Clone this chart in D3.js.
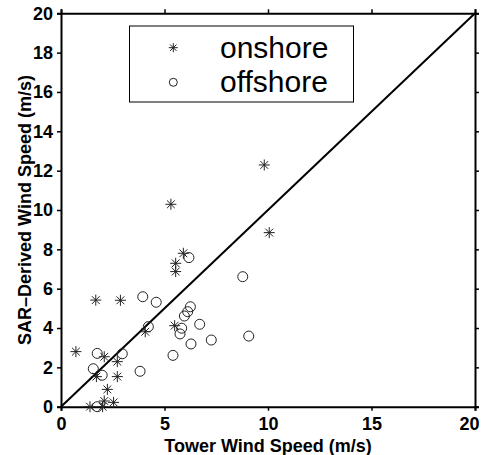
<!DOCTYPE html>
<html><head><meta charset="utf-8">
<script src="https://cdn.jsdelivr.net/npm/d3@7"></script>
<style>body{margin:0;background:#fff}svg{display:block}</style>
</head><body>
<svg id="c" width="481" height="455"></svg>
<script>
const onshoreX = [0.72,1.68,2.87,5.91,5.54,5.54,5.49,4.07,2.09,2.72,2.72,1.71,2.24,2.09,2.54,1.40,2.01,5.31,9.82,10.06];
const onshoreY = [2.80,5.42,5.41,7.80,7.29,6.87,4.12,3.81,2.54,2.29,1.53,1.53,0.88,0.29,0.22,0.00,0.00,10.29,12.29,8.85];
const offshoreX = [6.18,3.95,4.60,6.25,6.12,5.96,6.70,5.83,5.75,4.22,7.26,6.28,5.41,3.82,1.75,2.96,1.56,1.99,1.75,8.78,9.07];
const offshoreY = [7.58,5.59,5.31,5.08,4.83,4.61,4.19,3.99,3.70,4.07,3.39,3.19,2.61,1.80,2.71,2.69,1.93,1.60,0.00,6.61,3.59];
const xTicks = [0,5,10,15,20];
const yTicks = [0,2,4,6,8,10,12,14,16,18,20];
const legendLabels = ["onshore","offshore"];
const xLabel = "Tower Wind Speed (m/s)";
const yLabel = "SAR\u2013Derived Wind Speed (m/s)";

const svg = d3.select("#c");
const L=61, T=13.3, W=414, H=393.4;
const x = d3.scaleLinear().domain([0,20]).range([L,L+W]);
const y = d3.scaleLinear().domain([0,20]).range([T+H,T]);
const font = "'Liberation Sans', Arial, Helvetica, sans-serif";

function styleAxis(g){
  g.selectAll("path.domain").attr("stroke","#000").attr("stroke-width",2);
  g.selectAll(".tick line").attr("stroke","#000").attr("stroke-width",1.5);
  g.selectAll("text").attr("font-family",font).attr("font-weight","bold").attr("font-size",18).attr("fill","#000");
}
const gx = svg.append("g").attr("transform",`translate(0,${T+H})`)
  .call(d3.axisBottom(x).tickValues(xTicks).tickSize(4).tickPadding(7).tickFormat(d3.format("d"))).call(styleAxis);
// keep the last label inside the window (reference shows it at the very edge)
gx.selectAll(".tick text").filter(d=>d===20).attr("text-anchor","end").attr("dx","4");
svg.append("g").attr("transform",`translate(0,${T})`)
  .call(d3.axisTop(x).tickValues(xTicks).tickSize(4).tickFormat("")).call(styleAxis);
svg.append("g").attr("transform",`translate(${L},0)`)
  .call(d3.axisLeft(y).tickValues(yTicks).tickSize(4).tickPadding(4).tickFormat(d3.format("d"))).call(styleAxis);
svg.append("g").attr("transform",`translate(${L+W},0)`)
  .call(d3.axisRight(y).tickValues(yTicks).tickSize(4).tickFormat("")).call(styleAxis);

// diagonal 1:1 line
svg.append("line").attr("x1",x(0)).attr("y1",y(0)).attr("x2",x(20)).attr("y2",y(20))
  .attr("stroke","#000").attr("stroke-width",2);

function starPath(cx,cy,r){
  const d=r*0.7071;
  return `M${cx-r},${cy}L${cx+r},${cy}M${cx},${cy-r}L${cx},${cy+r}M${cx-d},${cy-d}L${cx+d},${cy+d}M${cx-d},${cy+d}L${cx+d},${cy-d}`;
}
const on = onshoreX.map((v,i)=>({x:v,y:onshoreY[i]}));
const off = offshoreX.map((v,i)=>({x:v,y:offshoreY[i]}));

svg.append("g").selectAll("circle").data(off).join("circle")
  .attr("cx",d=>x(d.x)).attr("cy",d=>y(d.y)).attr("r",5)
  .attr("fill","none").attr("stroke","#222").attr("stroke-width",1);
svg.append("g").selectAll("path").data(on).join("path")
  .attr("d",d=>starPath(x(d.x),y(d.y),5.5))
  .attr("fill","none").attr("stroke","#222").attr("stroke-width",1);

// legend
const lg = svg.append("g");
lg.append("rect").attr("x",129.5).attr("y",26).attr("width",224).attr("height",76)
  .attr("fill","#fff").attr("stroke","#000").attr("stroke-width",1);
lg.append("path").attr("d",starPath(173.3,47.7,4.5)).attr("fill","none").attr("stroke","#222").attr("stroke-width",1);
lg.append("circle").attr("cx",173.3).attr("cy",82.3).attr("r",4).attr("fill","none").attr("stroke","#222").attr("stroke-width",1);
lg.selectAll("text").data(legendLabels).join("text")
  .attr("x",220).attr("y",(d,i)=>i===0?58.3:92.3)
  .attr("font-family",font).attr("font-size",30).attr("fill","#000").text(d=>d);

// axis labels
svg.append("text").attr("x",268).attr("y",452).attr("text-anchor","middle")
  .attr("font-family",font).attr("font-weight","bold").attr("font-size",18).text(xLabel);
svg.append("text").attr("transform",`translate(31,210) rotate(-90)`).attr("text-anchor","middle")
  .attr("font-family",font).attr("font-weight","bold").attr("font-size",18).text(yLabel);
</script>
</body></html>
